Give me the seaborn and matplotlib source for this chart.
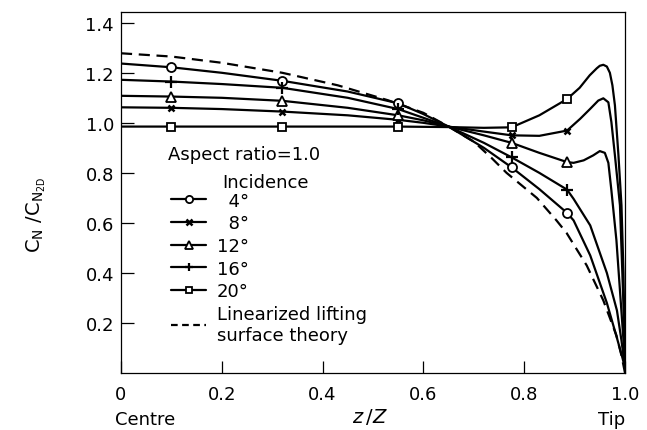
import matplotlib
matplotlib.use("Agg")
import matplotlib.pyplot as plt
from matplotlib.lines import Line2D
import seaborn as sns

# Spanwise position z/Z where the measured points sit
marker_z = [0.1, 0.32, 0.55, 0.775, 0.885]

# Measured normal-force ratio at those stations, one list per incidence
pts_4 = [1.222, 1.168, 1.078, 0.822, 0.64]
pts_8 = [1.06, 1.045, 1.012, 0.95, 0.969]
pts_12 = [1.105, 1.088, 1.03, 0.92, 0.843]
pts_16 = [1.165, 1.14, 1.055, 0.862, 0.733]
pts_20 = [0.985, 0.985, 0.985, 0.982, 1.095]

# Faired curves through the measurements
z_4 = [0, 0.1, 0.2, 0.32, 0.45, 0.55, 0.6, 0.65, 0.72, 0.775, 0.83, 0.885,
       0.898, 0.931, 0.964, 0.984, 0.995, 1.0]
c_4 = [1.237, 1.222, 1.2, 1.168, 1.125, 1.078, 1.035, 0.985, 0.9, 0.822, 0.735, 0.64,
       0.61, 0.47, 0.28, 0.14, 0.06, 0.02]

z_8 = [0, 0.1, 0.2, 0.32, 0.45, 0.55, 0.6, 0.65, 0.72, 0.775, 0.83, 0.885,
       0.911, 0.931, 0.947, 0.957, 0.967, 0.973, 0.98, 0.99, 0.997, 1.0]
c_8 = [1.062, 1.06, 1.055, 1.045, 1.03, 1.012, 1.0, 0.985, 0.965, 0.95, 0.948, 0.969,
       1.016, 1.056, 1.089, 1.098, 1.082, 1.003, 0.87, 0.67, 0.27, 0.02]

z_12 = [0, 0.1, 0.2, 0.32, 0.45, 0.55, 0.6, 0.65, 0.72, 0.775, 0.83, 0.885,
        0.898, 0.918, 0.937, 0.95, 0.96, 0.967, 0.973, 0.983, 0.99, 0.997, 1.0]
c_12 = [1.108, 1.105, 1.1, 1.088, 1.06, 1.03, 1.01, 0.985, 0.95, 0.92, 0.88, 0.843,
        0.84, 0.85, 0.87, 0.887, 0.88, 0.84, 0.73, 0.53, 0.33, 0.13, 0.02]

z_16 = [0, 0.1, 0.2, 0.32, 0.45, 0.55, 0.6, 0.65, 0.72, 0.775, 0.83, 0.885,
        0.898, 0.931, 0.964, 0.984, 0.993, 1.0]
c_16 = [1.172, 1.165, 1.155, 1.14, 1.1, 1.055, 1.02, 0.985, 0.92, 0.862, 0.8, 0.733,
        0.696, 0.59, 0.4, 0.25, 0.13, 0.02]

z_20 = [0, 0.1, 0.2, 0.32, 0.45, 0.55, 0.65, 0.72, 0.775, 0.83, 0.885,
        0.91, 0.93, 0.944, 0.95, 0.957, 0.964, 0.97, 0.975, 0.98, 0.987, 0.993, 0.997, 1.0]
c_20 = [0.985, 0.985, 0.985, 0.985, 0.985, 0.985, 0.983, 0.98, 0.982, 1.03, 1.095,
        1.14, 1.19, 1.218, 1.228, 1.232, 1.225, 1.2, 1.15, 1.07, 0.87, 0.67, 0.4, 0.02]

# Linearized lifting surface theory
z_theory = [0, 0.1, 0.2, 0.32, 0.43, 0.53, 0.6, 0.65, 0.7, 0.735, 0.765, 0.825,
            0.864, 0.884, 0.924, 0.957, 0.983, 0.993, 1.0]
c_theory = [1.278, 1.265, 1.24, 1.2, 1.15, 1.09, 1.04, 0.985, 0.925, 0.86, 0.8, 0.7,
            0.61, 0.56, 0.43, 0.29, 0.15, 0.07, 0.0]

incidence_labels = ["\u20074\u00b0", "\u20078\u00b0", "12\u00b0", "16\u00b0", "20\u00b0"]
theory_label = "Linearized lifting\nsurface theory"

x_ticks = [0, 0.2, 0.4, 0.6, 0.8, 1.0]
x_ticklabels = ["0", "0.2", "0.4", "0.6", "0.8", "1.0"]
y_ticks = [0.2, 0.4, 0.6, 0.8, 1.0, 1.2, 1.4]
y_ticklabels = ["0.2", "0.4", "0.6", "0.8", "1.0", "1.2", "1.4"]

sns.set_style("ticks")
plt.rcParams["font.family"] = ["DejaVu Sans"]
plt.rcParams["mathtext.fontset"] = "dejavusans"
for key in ("text.color", "axes.labelcolor", "xtick.color", "ytick.color",
            "axes.edgecolor"):
    plt.rcParams[key] = "black"

fig = plt.figure(figsize=(6.47, 4.31), dpi=100)
ax = fig.add_axes([121 / 647, 57 / 431, 504 / 647, 361.5 / 431])

LW = 1.6
series = [
    (z_4, c_4, pts_4, dict(marker="o", markersize=6.5, mfc="white", mew=1.3)),
    (z_8, c_8, pts_8, dict(marker="x", markersize=5, mew=1.8)),
    (z_12, c_12, pts_12, dict(marker="^", markersize=7, mfc="white", mew=1.3)),
    (z_16, c_16, pts_16, dict(marker="+", markersize=8, mew=1.6)),
    (z_20, c_20, pts_20, dict(marker="s", markersize=6, mfc="white", mew=1.3)),
]

for z, c, pts, mstyle in series:
    sns.lineplot(x=z, y=c, ax=ax, color="black", lw=LW, sort=False,
                 estimator=None, zorder=2)
    sns.lineplot(x=marker_z, y=pts, ax=ax, color="black", linestyle="none",
                 mec="black", sort=False, estimator=None, zorder=3, **mstyle)

sns.lineplot(x=z_theory, y=c_theory, ax=ax, color="black", lw=LW, sort=False,
             estimator=None, zorder=2, linestyle=(0, (5, 3)))

ax.set_xlim(0, 1.0)
ax.set_ylim(0, 1.445)
ax.set_xticks(x_ticks)
ax.set_xticklabels(x_ticklabels)
ax.set_yticks(y_ticks)
ax.set_yticklabels(y_ticklabels)
ax.tick_params(axis="both", direction="in", length=9, width=0.9,
               labelsize=13, colors="black")
ax.tick_params(axis="x", pad=9)
ax.tick_params(axis="y", pad=5)
for s in ax.spines.values():
    s.set_linewidth(0.9)
    s.set_color("black")

ax.set_xlabel(r"$z\,/Z$", fontsize=14, va="center")
ax.xaxis.set_label_coords(0.494, -0.119)
ax.set_ylabel(r"$\mathrm{C_N\ /C_{N_{2D}}}$", fontsize=14)
ax.yaxis.set_label_coords(-0.145, 0.44)

ax.text(0.048, -0.127, "Centre", transform=ax.transAxes, ha="center",
        va="center", fontsize=13)
ax.text(0.974, -0.127, "Tip", transform=ax.transAxes, ha="center",
        va="center", fontsize=13)

ax.text(0.093, 0.606, "Aspect ratio=1.0", transform=ax.transAxes,
        ha="left", va="center", fontsize=13)
ax.text(0.2, 0.528, "Incidence", transform=ax.transAxes,
        ha="left", va="center", fontsize=13)

legend_styles = [dict(m, markersize=m["markersize"] * 0.8) for _, _, _, m in series]
handles = [Line2D([], [], color="black", lw=LW, mec="black", **m)
           for m in legend_styles]
handles.append(Line2D([], [], color="black", lw=LW, linestyle=(0, (3, 2))))
ax.legend(handles, incidence_labels + [theory_label], loc="upper left",
          bbox_to_anchor=(0.1, 0.502), frameon=False, fontsize=13,
          handlelength=1.9, handletextpad=0.6, labelspacing=0.26,
          borderpad=0, borderaxespad=0, numpoints=1)

fig.savefig("out.png", dpi=100)
